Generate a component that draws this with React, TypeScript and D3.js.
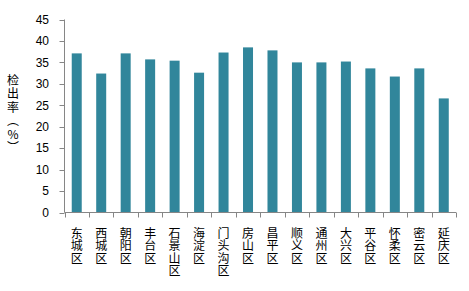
import React from "react";
import * as d3 from "d3";

const categories = ["东城区","西城区","朝阳区","丰台区","石景山区","海淀区","门头沟区","房山区","昌平区","顺义区","通州区","大兴区","平谷区","怀柔区","密云区","延庆区"];
const values = [37.1, 32.4, 37.1, 35.7, 35.4, 32.6, 37.3, 38.5, 37.8, 35.0, 35.0, 35.2, 33.6, 31.7, 33.6, 26.6];
const yTicks = [0, 5, 10, 15, 20, 25, 30, 35, 40, 45];
const yLabel = "检出率（%）";

export default function App() {
  const W = 469, H = 291;
  const x0 = 64.5, x1 = 456, yBottom = 212.5, yTop = 19.5;
  const x = d3.scaleBand<string>().domain(categories).range([x0, x1]).paddingInner(0).paddingOuter(0);
  const y = d3.scaleLinear().domain([0, 45]).range([yBottom, yTop]);
  const bw = 10;
  const axisColor = "#868686";
  const cjk = "'Noto Sans CJK SC', sans-serif";
  const vstyle: React.CSSProperties = { writingMode: "vertical-rl", textOrientation: "upright" } as React.CSSProperties;
  return (
    <svg width={W} height={H} style={{ position: "absolute", left: 0, top: 0, background: "#fff" }}>
      {categories.map((c, i) => (
        <rect key={c} x={(x(c) as number) + x.bandwidth() / 2 - bw / 2} y={y(values[i])} width={bw} height={yBottom - y(values[i])} fill="#31869B" />
      ))}
      <line x1={x0} x2={x0} y1={yTop} y2={yBottom} stroke={axisColor} />
      {yTicks.map(t => (
        <g key={t}>
          <line x1={x0 - 5} x2={x0} y1={Math.round(y(t)) + 0.5} y2={Math.round(y(t)) + 0.5} stroke={axisColor} />
          <text x={49} y={y(t)} dy="0.36em" textAnchor="end" fontSize={12} fontFamily="'Liberation Sans', Arial, sans-serif" fill="#000">{t}</text>
        </g>
      ))}
      <line x1={x0} x2={x1} y1={yBottom} y2={yBottom} stroke={axisColor} />
      {[...categories.map(c => x(c) as number), x1].map((p, i) => (
        <line key={i} x1={Math.round(p) + 0.5} x2={Math.round(p) + 0.5} y1={yBottom} y2={yBottom + 5} stroke={axisColor} />
      ))}
      {categories.map(c => (
        <text key={c} x={(x(c) as number) + x.bandwidth() / 2} y={227} fontSize={12} letterSpacing={0.5} fontFamily={cjk} fill="#000" style={vstyle}>{c}</text>
      ))}
      <text x={13} y={74} fontSize={12} letterSpacing={1.5} fontFamily={cjk} fill="#000" style={vstyle}>{yLabel}</text>
    </svg>
  );
}
